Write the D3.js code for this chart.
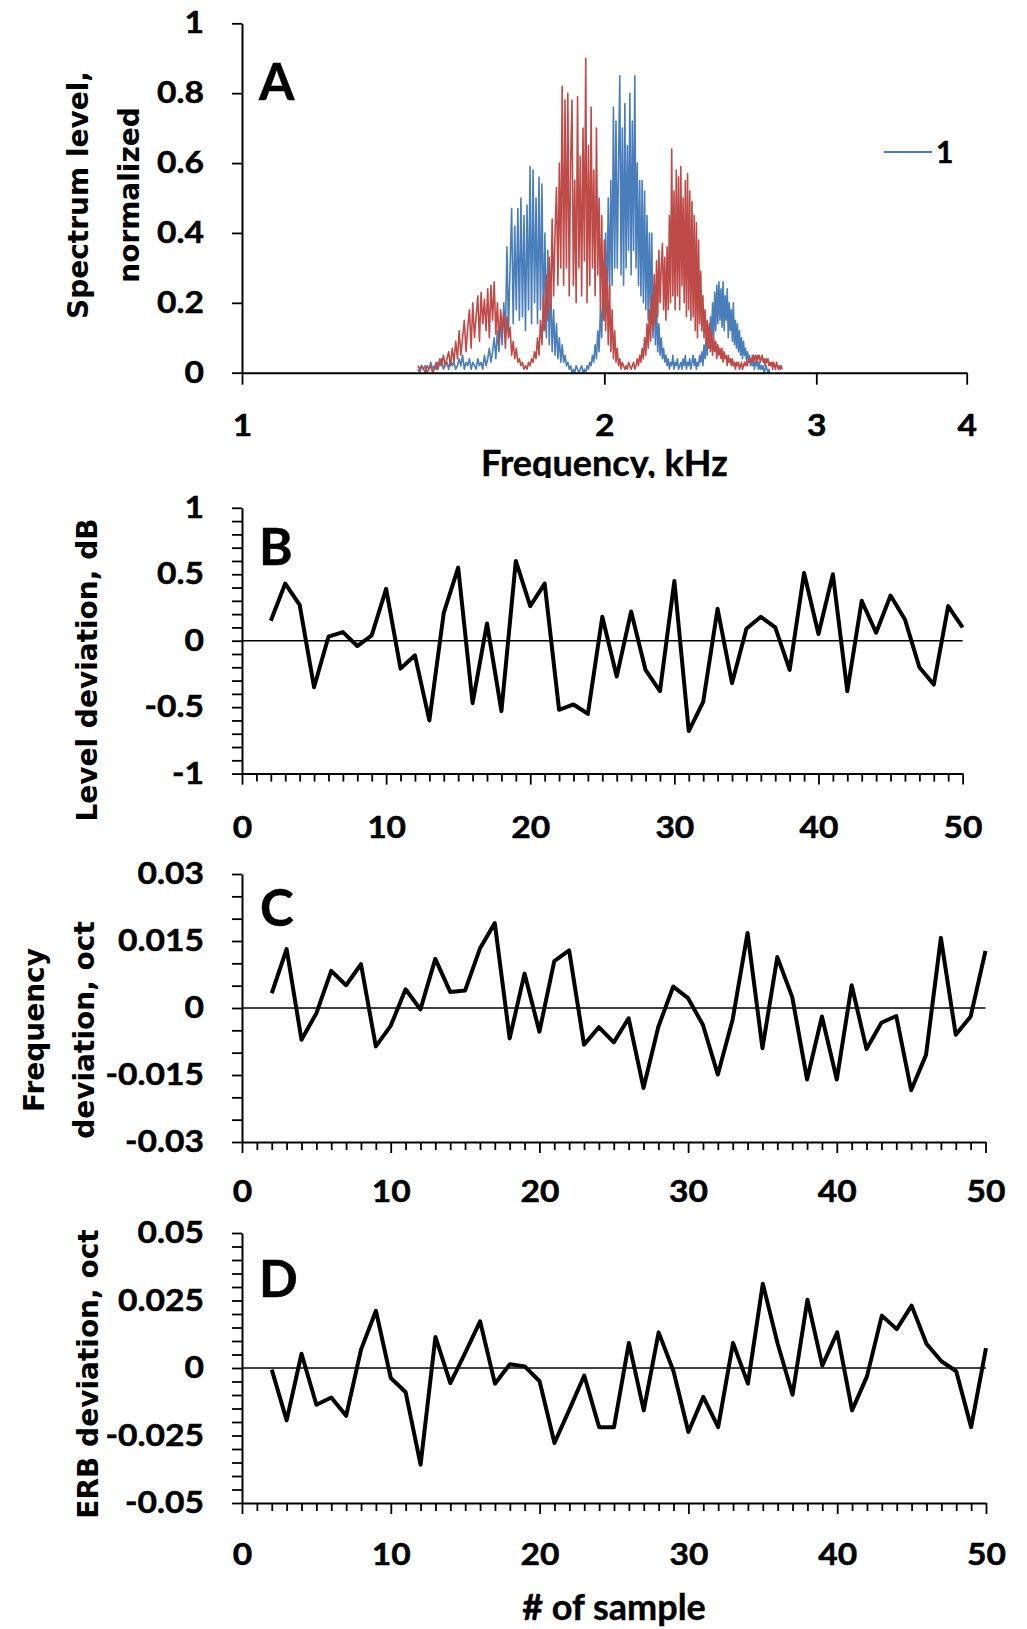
<!DOCTYPE html>
<html>
<head>
<meta charset="utf-8">
<script src="https://cdn.jsdelivr.net/npm/d3@7"></script>
<style>
  html, body { margin: 0; padding: 0; background: #fff; }
  svg { display: block; }
</style>
</head>
<body>
<svg id="fig" width="1027" height="1629"></svg>
<script>
// ---------- data ----------
// Panel A: normalized spectra, sampled on a linear frequency grid (5 Hz bins from 1.4 kHz)
const spectrumBinStartHz = 1400;
const spectrumBinWidthHz = 5;
const spectrum1 = [ // blue, series "1"
  0.01, 0.00, 0.02, 0.01, 0.02, 0.00, 0.01, 0.03, 0.01, 0.02,
  0.01, 0.03, 0.02, 0.04, 0.01, 0.02, 0.03, 0.01, 0.04, 0.02,
  0.03, 0.01, 0.02, 0.04, 0.02, 0.05, 0.01, 0.03, 0.02, 0.04,
  0.01, 0.03, 0.02, 0.01, 0.04, 0.02, 0.03, 0.01, 0.05, 0.02,
  0.04, 0.07, 0.03, 0.06, 0.10, 0.04, 0.12, 0.06, 0.15, 0.08,
  0.20, 0.10, 0.36, 0.12, 0.30, 0.47, 0.14, 0.42, 0.18, 0.47,
  0.15, 0.50, 0.16, 0.45, 0.12, 0.48, 0.18, 0.59, 0.14, 0.58,
  0.20, 0.50, 0.14, 0.56, 0.18, 0.54, 0.12, 0.40, 0.10, 0.35,
  0.08, 0.25, 0.06, 0.18, 0.05, 0.14, 0.04, 0.10, 0.03, 0.08,
  0.03, 0.05, 0.02, 0.03, 0.01, 0.02, 0.00, 0.01, 0.00, 0.02,
  0.01, 0.00, 0.01, 0.02, 0.00, 0.01, 0.00, 0.02, 0.01, 0.03,
  0.02, 0.05, 0.03, 0.08, 0.04, 0.12, 0.06, 0.18, 0.10, 0.28,
  0.15, 0.40, 0.18, 0.50, 0.22, 0.55, 0.25, 0.76, 0.30, 0.72,
  0.30, 0.60, 0.85, 0.28, 0.70, 0.25, 0.77, 0.30, 0.65, 0.35,
  0.80, 0.28, 0.72, 0.35, 0.85, 0.30, 0.60, 0.25, 0.55, 0.22,
  0.55, 0.20, 0.52, 0.18, 0.45, 0.15, 0.40, 0.14, 0.40, 0.10,
  0.25, 0.08, 0.20, 0.06, 0.14, 0.05, 0.10, 0.04, 0.07, 0.03,
  0.05, 0.02, 0.04, 0.01, 0.03, 0.02, 0.05, 0.01, 0.03, 0.02,
  0.04, 0.01, 0.02, 0.03, 0.01, 0.04, 0.02, 0.05, 0.01, 0.03,
  0.02, 0.04, 0.01, 0.03, 0.05, 0.02, 0.04, 0.01, 0.03, 0.02,
  0.05, 0.03, 0.06, 0.02, 0.08, 0.04, 0.10, 0.05, 0.13, 0.07,
  0.16, 0.08, 0.20, 0.10, 0.23, 0.12, 0.25, 0.14, 0.26, 0.15,
  0.24, 0.13, 0.26, 0.12, 0.22, 0.15, 0.24, 0.10, 0.20, 0.12,
  0.18, 0.09, 0.20, 0.08, 0.15, 0.07, 0.14, 0.06, 0.12, 0.05,
  0.10, 0.04, 0.09, 0.05, 0.07, 0.03, 0.06, 0.04, 0.05, 0.02,
  0.04, 0.02, 0.05, 0.01, 0.03, 0.02, 0.04, 0.01, 0.03, 0.01,
  0.02, 0.01, 0.02, 0.00, 0.01, 0.02, 0.01, 0.00, 0.01, 0.00
];
const spectrum2 = [ // red
  0.02, 0.01, 0.02, 0.01, 0.00, 0.02, 0.01, 0.02, 0.00, 0.01,
  0.03, 0.01, 0.04, 0.02, 0.05, 0.02, 0.04, 0.06, 0.02, 0.07,
  0.03, 0.09, 0.04, 0.12, 0.05, 0.10, 0.15, 0.06, 0.13, 0.18,
  0.07, 0.20, 0.10, 0.16, 0.22, 0.09, 0.23, 0.14, 0.21, 0.12,
  0.24, 0.10, 0.25, 0.15, 0.26, 0.11, 0.20, 0.08, 0.18, 0.12,
  0.17, 0.07, 0.16, 0.10, 0.13, 0.05, 0.09, 0.04, 0.07, 0.03,
  0.04, 0.02, 0.03, 0.01, 0.02, 0.01, 0.03, 0.02, 0.04, 0.03,
  0.06, 0.04, 0.10, 0.05, 0.15, 0.08, 0.22, 0.12, 0.28, 0.15,
  0.33, 0.18, 0.44, 0.22, 0.40, 0.53, 0.25, 0.60, 0.30, 0.82,
  0.25, 0.78, 0.30, 0.80, 0.22, 0.60, 0.78, 0.25, 0.55, 0.20,
  0.79, 0.30, 0.62, 0.22, 0.70, 0.32, 0.90, 0.20, 0.65, 0.25,
  0.76, 0.30, 0.58, 0.22, 0.70, 0.28, 0.50, 0.18, 0.45, 0.15,
  0.38, 0.12, 0.30, 0.08, 0.25, 0.06, 0.18, 0.04, 0.12, 0.03,
  0.07, 0.02, 0.04, 0.01, 0.03, 0.02, 0.01, 0.02, 0.01, 0.03,
  0.02, 0.01, 0.02, 0.03, 0.01, 0.02, 0.04, 0.02, 0.05, 0.03,
  0.07, 0.04, 0.10, 0.05, 0.14, 0.07, 0.18, 0.09, 0.22, 0.12,
  0.28, 0.14, 0.32, 0.16, 0.35, 0.20, 0.30, 0.37, 0.18, 0.33,
  0.15, 0.36, 0.18, 0.45, 0.20, 0.64, 0.22, 0.52, 0.18, 0.58,
  0.22, 0.56, 0.18, 0.59, 0.25, 0.50, 0.20, 0.55, 0.16, 0.57,
  0.18, 0.52, 0.15, 0.49, 0.16, 0.45, 0.12, 0.43, 0.10, 0.38,
  0.14, 0.29, 0.12, 0.22, 0.10, 0.18, 0.08, 0.15, 0.07, 0.14,
  0.06, 0.12, 0.05, 0.10, 0.06, 0.09, 0.04, 0.08, 0.05, 0.07,
  0.04, 0.07, 0.03, 0.06, 0.04, 0.05, 0.02, 0.05, 0.03, 0.04,
  0.02, 0.04, 0.02, 0.03, 0.01, 0.03, 0.02, 0.03, 0.01, 0.02,
  0.03, 0.01, 0.02, 0.03, 0.02, 0.03, 0.02, 0.04, 0.03, 0.04,
  0.03, 0.05, 0.03, 0.04, 0.05, 0.03, 0.05, 0.04, 0.05, 0.03,
  0.04, 0.05, 0.03, 0.04, 0.02, 0.04, 0.03, 0.04, 0.02, 0.03,
  0.02, 0.03, 0.01, 0.03, 0.02, 0.01, 0.03, 0.02, 0.01, 0.02,
  0.01, 0.02, 0.01
];
const spectrumLevelTicks = [0, 0.2, 0.4, 0.6, 0.8, 1];
const frequencyTicks = [1, 2, 3, 4];

// Panels B-D: per-sample deviations
const sampleIds = [2, 3, 4, 5, 6, 7, 8, 9, 10, 11, 12, 13, 14, 15, 16, 17, 18, 19, 20,
  21, 22, 23, 24, 25, 26, 27, 28, 29, 30, 31, 32, 33, 34, 35, 36, 37, 38, 39, 40,
  41, 42, 43, 44, 45, 46, 47, 48, 49, 50];
const levelDeviation = [0.15, 0.43, 0.27, -0.35, 0.03, 0.065, -0.04, 0.04, 0.39,
  -0.21, -0.11, -0.6, 0.21, 0.55, -0.47, 0.13, -0.53, 0.6, 0.26, 0.43,
  -0.52, -0.48, -0.55, 0.18, -0.27, 0.22, -0.22, -0.38, 0.45, -0.68,
  -0.46, 0.24, -0.32, 0.09, 0.18, 0.1, -0.22, 0.51, 0.05, 0.5,
  -0.38, 0.3, 0.06, 0.34, 0.16, -0.2, -0.33, 0.26, 0.1];
const frequencyDeviation = [0.0033, 0.0132, -0.0071, -0.0012, 0.0083, 0.0051, 0.0098, -0.0086, -0.004,
  0.0042, -0.0003, 0.011, 0.0036, 0.0039, 0.0133, 0.019, -0.0068, 0.0077, -0.0053,
  0.0105, 0.0129, -0.0082, -0.0043, -0.0077, -0.0023, -0.0179, -0.0042, 0.0048, 0.0022,
  -0.0038, -0.0149, -0.0025, 0.0168, -0.009, 0.0114, 0.0025, -0.016, -0.0019, -0.016,
  0.0051, -0.0092, -0.0033, -0.0018, -0.0184, -0.0105, 0.0157, -0.006, -0.0019, 0.0128];
const erbDeviation = [-0.0006, -0.0194, 0.0053, -0.0136, -0.0109, -0.0177, 0.0068, 0.0212, -0.0037,
  -0.009, -0.0358, 0.0115, -0.0056, 0.0056, 0.0173, -0.0058, 0.0014, 0.0006, -0.0049,
  -0.0278, -0.0154, -0.0028, -0.0219, -0.0219, 0.0093, -0.0157, 0.0132, -0.0012, -0.0237,
  -0.0107, -0.0219, 0.0093, -0.0058, 0.0312, 0.009, -0.0099, 0.0253, 0.0009, 0.0132,
  -0.0157, -0.0031, 0.0194, 0.0144, 0.0231, 0.009, 0.0025, -0.0012, -0.0219, 0.0074];
const sampleTicks = [0, 10, 20, 30, 40, 50];
const levelTicks = [-1, -0.5, 0, 0.5, 1];
const frequencyDevTicks = [-0.03, -0.015, 0, 0.015, 0.03];
const erbTicks = [-0.05, -0.025, 0, 0.025, 0.05];

// ---------- drawing ----------
const svg = d3.select("#fig");
const LABEL_FONT = "Lato, 'Open Sans', 'Liberation Sans', sans-serif";
const TITLE_FONT = "'DejaVu Sans', Verdana, sans-serif";
const TICK_FS = 30;
const TICK_WIDEN = 1.12;   // tick labels are drawn a little wider than the font
const AXIS_LEFT = 242;

function styleAxis(g, side) {
  g.attr("font-family", LABEL_FONT).attr("font-weight", 700).attr("font-size", TICK_FS);
  g.select(".domain").attr("stroke", "#000").attr("stroke-width", 2);
  g.selectAll(".tick line").attr("stroke", "#000").attr("stroke-width", 1.8);
  const t = g.selectAll(".tick text")
    .attr("fill", "#000").attr("stroke", "#000").attr("stroke-width", 0.5)
    .attr("transform", `scale(${TICK_WIDEN},1)`);
  if (side === "left") t.attr("x", function () { return +this.getAttribute("x") / TICK_WIDEN; });
}

function panelLetter(txt, x, y) {
  svg.append("text").attr("x", x).attr("y", y)
    .attr("font-family", LABEL_FONT).attr("font-weight", 700).attr("font-size", 51)
    .attr("stroke", "#000").attr("stroke-width", 0.5)
    .text(txt);
}

function verticalTitle(lines, cy) {
  lines.forEach(([txt, x]) => {
    svg.append("text")
      .attr("transform", `translate(${x},${cy}) rotate(-90)`)
      .attr("text-anchor", "middle")
      .attr("font-family", TITLE_FONT).attr("font-weight", 700).attr("font-size", 28)
      .text(txt);
  });
}

function bottomTitle(txt, x, y, clip) {
  const t = svg.append("text").attr("x", x).attr("y", y).attr("text-anchor", "middle")
    .attr("font-family", LABEL_FONT).attr("font-weight", 700).attr("font-size", 36)
    .attr("stroke", "#000").attr("stroke-width", 0.4)
    .text(txt);
  if (clip) t.attr("clip-path", `url(#${clip})`);
}

// ---- Panel A: spectra ----
const xA = d3.scaleLog().base(2).domain([1, 4]).range([AXIS_LEFT, 966.7]);
const yA = d3.scaleLinear().domain([0, 1]).range([372.7, 23.3]);
const binKHz = i => (spectrumBinStartHz + i * spectrumBinWidthHz) / 1000;
const spectrumLine = d3.line().x((v, i) => xA(binKHz(i))).y(v => yA(v));

svg.append("path").datum(spectrum1)
  .attr("d", spectrumLine).attr("fill", "none")
  .attr("stroke", "#4A7EBB").attr("stroke-width", 1.6).attr("stroke-linejoin", "round");
svg.append("path").datum(spectrum2)
  .attr("d", spectrumLine).attr("fill", "none")
  .attr("stroke", "#BE4B48").attr("stroke-width", 1.6).attr("stroke-linejoin", "round");

svg.append("g").attr("transform", `translate(${AXIS_LEFT},0)`)
  .call(d3.axisLeft(yA).tickValues(spectrumLevelTicks).tickSize(10).tickPadding(28)
    .tickSizeOuter(0).tickFormat(d => String(d)))
  .call(styleAxis, "left");

svg.append("g").attr("transform", `translate(0,${yA(0)})`)
  .call(d3.axisBottom(xA).tickValues(frequencyTicks).tickSize(12).tickPadding(30)
    .tickSizeOuter(0).tickFormat(d => String(d)))
  .call(styleAxis, "bottom");

// axis title, cut off by the panel below
svg.append("clipPath").attr("id", "clipA")
  .append("rect").attr("x", 0).attr("y", 380).attr("width", 1027).attr("height", 98);
bottomTitle("Frequency, kHz", xA(2), 476, "clipA");

verticalTitle([["Spectrum level,", 88], ["normalized", 139]], 195);
panelLetter("A", 259, 100);

// legend
svg.append("line").attr("x1", 884).attr("x2", 932).attr("y1", 152).attr("y2", 152)
  .attr("stroke", "#4A7EBB").attr("stroke-width", 2);
svg.append("text").attr("x", 936).attr("y", 163)
  .attr("font-family", LABEL_FONT).attr("font-weight", 700).attr("font-size", TICK_FS)
  .attr("stroke", "#000").attr("stroke-width", 0.5)
  .text("1");

// ---- Panels B-D: deviation series ----
function deviationPanel(opt) {
  const x = d3.scaleLinear().domain([0, 50]).range([AXIS_LEFT, opt.right]);
  const lo = opt.ticks[0], hi = opt.ticks[opt.ticks.length - 1];
  const y = d3.scaleLinear().domain([lo, hi]).range([opt.bottom, opt.top]);

  // zero reference line
  svg.append("line").attr("x1", AXIS_LEFT).attr("x2", opt.right)
    .attr("y1", y(0)).attr("y2", y(0)).attr("stroke", "#000").attr("stroke-width", 1.6);

  // y axis: minor ticks, labels only at the major values
  const yMinor = d3.range(Math.round((hi - lo) / opt.minorStep) + 1).map(k => lo + k * opt.minorStep);
  const majorAt = v => opt.ticks.find(t => Math.abs(t - v) < opt.minorStep / 10);
  svg.append("g").attr("transform", `translate(${AXIS_LEFT},0)`)
    .call(d3.axisLeft(y).tickValues(yMinor).tickSize(10).tickPadding(28).tickSizeOuter(0)
      .tickFormat(v => { const t = majorAt(v); return t === undefined ? "" : String(t); }))
    .call(styleAxis, "left");

  // x axis: unit minor ticks, labelled every 10
  const xMinor = d3.range(0, 51);
  const gx = svg.append("g").attr("transform", `translate(0,${opt.bottom})`)
    .call(d3.axisBottom(x).tickValues(xMinor).tickSize(8).tickPadding(opt.xLabelPad).tickSizeOuter(0)
      .tickFormat(d => sampleTicks.includes(d) ? String(d) : ""))
    .call(styleAxis, "bottom");
  gx.selectAll(".tick line").filter(d => sampleTicks.includes(d)).attr("y2", 11);

  // series
  svg.append("path").datum(opt.values)
    .attr("fill", "none").attr("stroke", "#000").attr("stroke-width", 4)
    .attr("stroke-linejoin", "round")
    .attr("d", d3.line().x((v, i) => x(sampleIds[i])).y(v => y(v)));

  panelLetter(opt.letter, opt.letterX, opt.letterY);
  verticalTitle(opt.title, opt.titleY);
}

deviationPanel({
  values: levelDeviation, ticks: levelTicks, minorStep: 0.1,
  top: 507.8, bottom: 773.6, right: 962.6, xLabelPad: 35,
  letter: "B", letterX: 259, letterY: 565,
  title: [["Level deviation, dB", 97]], titleY: 670
});
deviationPanel({
  values: frequencyDeviation, ticks: frequencyDevTicks, minorStep: 0.005,
  top: 874, bottom: 1142, right: 985.5, xLabelPad: 31,
  letter: "C", letterX: 260, letterY: 926,
  title: [["Frequency", 44], ["deviation, oct", 94]], titleY: 1030
});
deviationPanel({
  values: erbDeviation, ticks: erbTicks, minorStep: 0.005,
  top: 1233, bottom: 1503, right: 986, xLabelPad: 33,
  letter: "D", letterX: 259, letterY: 1297,
  title: [["ERB deviation, oct", 98]], titleY: 1374
});

// bottom axis title
bottomTitle("# of sample", 614, 1620);
</script>
</body>
</html>
